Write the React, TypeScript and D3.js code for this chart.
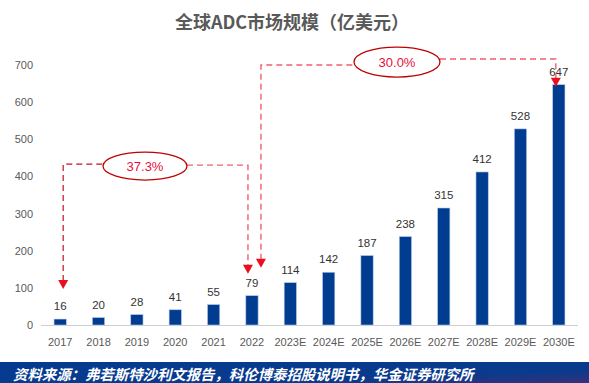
import * as d3 from "d3";
import React from "react";

const years = [
  "2017", "2018", "2019", "2020", "2021", "2022", "2023E",
  "2024E", "2025E", "2026E", "2027E", "2028E", "2029E", "2030E",
];
const marketSize = [16, 20, 28, 41, 55, 79, 114, 142, 187, 238, 315, 412, 528, 647];
const yTicks = [0, 100, 200, 300, 400, 500, 600, 700];
const cagrLabels = ["37.3%", "30.0%"];

const W = 589;
const H = 383;
const NUM_FONT = "'Liberation Sans', Arial, sans-serif";
const CJK_FONT = "'Noto Sans CJK SC', 'Liberation Sans', sans-serif";

function Arrow({ x, y }: { x: number; y: number }) {
  // small filled triangle pointing down, tip at (x, y)
  return <path d={`M${x - 5},${y - 9}L${x + 5},${y - 9}L${x},${y}Z`} fill="#e8101e" />;
}

export default function App() {
  const x = d3.scaleBand().domain(years).range([41, 578]).paddingInner(0.68).paddingOuter(0.34);
  const y = d3.scaleLinear().domain([0, 700]).range([325, 65]);
  const bw = x.bandwidth();
  const cx = (c: string) => (x(c) || 0) + bw / 2;

  // annotation 1: 2017 -> 2022
  const a1Left = cx("2017") + 3;
  const a1Right = cx("2022") - 4;
  const a1Y = y(433);
  const e1 = { cx: 145, cy: y(428), rx: 42, ry: 14 };
  // annotation 2: 2022 -> 2030E
  const a2Left = cx("2022") + 9;
  const a2LeftY = y(700);
  const a2Right = cx("2030E") - 3;
  const a2RightY = y(716);
  const e2 = { cx: 397, cy: y(708), rx: 43, ry: 15 };

  return (
    <svg width={W} height={H} style={{ position: "absolute", left: 0, top: 0, background: "#fff" }}>
      <defs>
        <linearGradient id="foot" x1="0" x2="1" y1="0" y2="1">
          <stop offset="0" stopColor="#043b90" />
          <stop offset="0.7" stopColor="#0a3a8c" />
          <stop offset="1" stopColor="#37307a" />
        </linearGradient>
      </defs>
      <text x={292} y={29} textAnchor="middle" fontFamily={CJK_FONT} fontSize={18} fontWeight="bold" fill="#595959">
        全球ADC市场规模（亿美元）
      </text>

      {yTicks.map((t) => (
        <text key={t} x={33} y={y(t) + 4} textAnchor="end" fontFamily={NUM_FONT} fontSize={11} fill="#595959">
          {t}
        </text>
      ))}
      <line x1={41} x2={578} y1={y(0) + 0.5} y2={y(0) + 0.5} stroke="#d0d0d0" />

      {years.map((c, i) => (
        <g key={c}>
          <rect
            x={x(c)}
            y={y(marketSize[i])}
            width={bw}
            height={y(0) - y(marketSize[i])}
            fill="#003d91"
            stroke="#b8c8e6"
            strokeWidth={0.6}
          />
          <text x={cx(c)} y={y(marketSize[i]) - 9} textAnchor="middle" fontFamily={NUM_FONT} fontSize={11.5} fill="#333">
            {marketSize[i]}
          </text>
          <text x={cx(c)} y={346} textAnchor="middle" fontFamily={NUM_FONT} fontSize={11} fill="#595959">
            {c}
          </text>
        </g>
      ))}

      {/* CAGR 2017-2022 */}
      <path d={`M${a1Left},${y(16) - 38}V${a1Y}H${e1.cx - e1.rx}`} fill="none" stroke="#c8101e" strokeWidth={1.2} strokeDasharray="6,4" />
      <path d={`M${e1.cx + e1.rx},${a1Y + 1}H${a1Right}V${y(79) - 30}`} fill="none" stroke="#f0606e" strokeWidth={1.4} strokeDasharray="6,4" />
      <Arrow x={a1Left} y={y(16) - 30} />
      <Arrow x={a1Right} y={y(79) - 22} />
      <ellipse cx={e1.cx} cy={e1.cy} rx={e1.rx} ry={e1.ry} fill="#fff" stroke="#c00000" strokeWidth={1.3} />
      <text x={e1.cx} y={e1.cy + 5} textAnchor="middle" fontFamily={NUM_FONT} fontSize={13} fill="#e8103a">
        {cagrLabels[0]}
      </text>

      {/* CAGR 2022-2030E */}
      <path d={`M${a2Left},${y(79) - 36}V${a2LeftY}H${e2.cx - e2.rx}`} fill="none" stroke="#f0606e" strokeWidth={1.4} strokeDasharray="6,4" />
      <path d={`M${e2.cx + e2.rx},${a2RightY}H${a2Right}V${y(647) - 4}`} fill="none" stroke="#f0606e" strokeWidth={1.4} strokeDasharray="6,4" />
      <Arrow x={a2Left} y={y(79) - 28} />
      <Arrow x={a2Right} y={y(647) + 2} />
      <ellipse cx={e2.cx} cy={e2.cy} rx={e2.rx} ry={e2.ry} fill="#fff" stroke="#c00000" strokeWidth={1.3} />
      <text x={e2.cx} y={e2.cy + 5} textAnchor="middle" fontFamily={NUM_FONT} fontSize={13} fill="#e8103a">
        {cagrLabels[1]}
      </text>

      <rect x={0} y={362} width={W} height={H - 362} fill="url(#foot)" />
      <text x={13} y={380} fontFamily={CJK_FONT} fontSize={14.4} fontStyle="italic" fontWeight="bold" fill="#fff">
        资料来源：弗若斯特沙利文报告，科伦博泰招股说明书，华金证券研究所
      </text>
    </svg>
  );
}
